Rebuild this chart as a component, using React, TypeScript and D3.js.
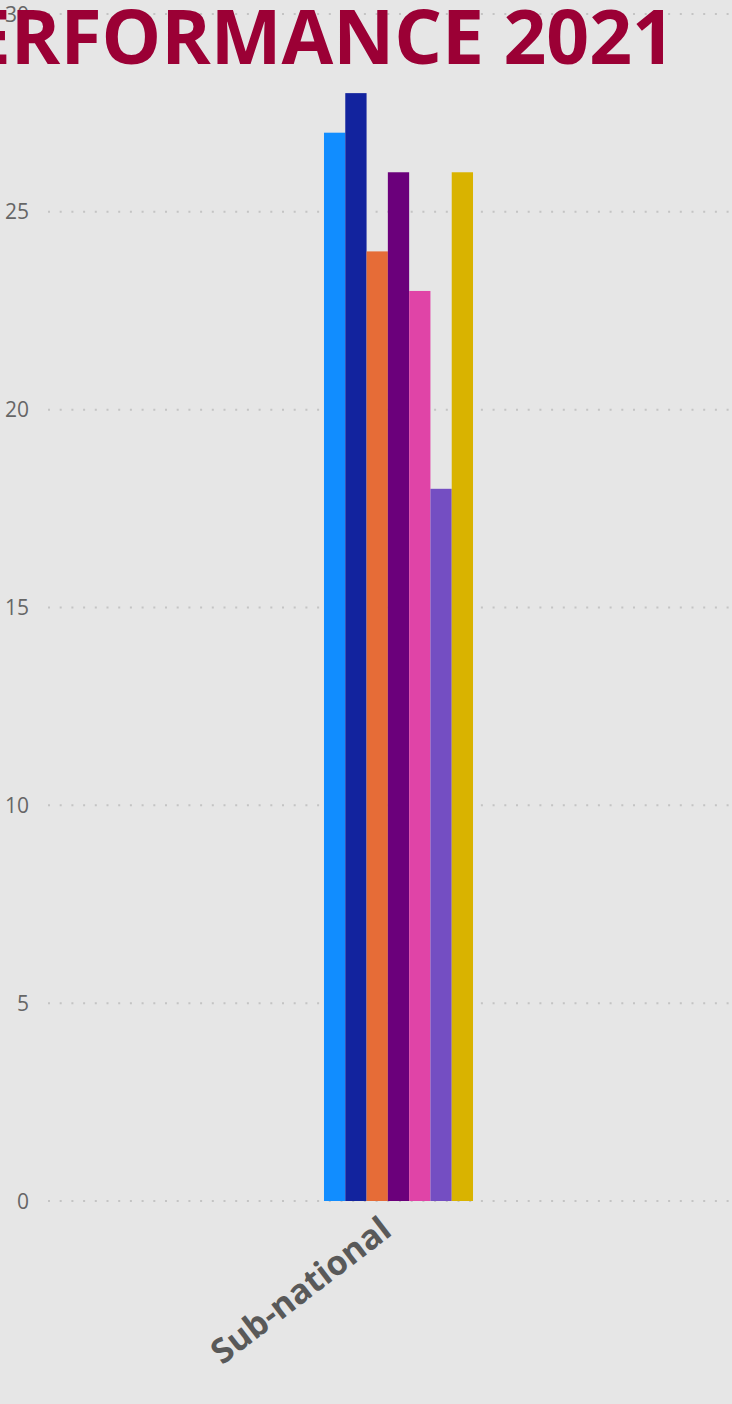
import { useEffect, useRef } from "react";
import * as d3 from "d3";

const categories = ["Sub-national"];
const seriesNames = ["S1", "S2", "S3", "S4", "S5", "S6", "S7"];
const seriesValues = [27, 28, 24, 26, 23, 18, 26];
const seriesColors = ["#118DFF", "#12239E", "#E66C37", "#6B007B", "#E044A7", "#744EC2", "#D9B300"];
const yTicks = [0, 5, 10, 15, 20, 25, 30];
const titleText = "PERFORMANCE 2021";

const W = 732;
const H = 1404;
const FONT = "'Open Sans', 'DejaVu Sans', sans-serif";

export default function App() {
  const svgRef = useRef<SVGSVGElement | null>(null);

  useEffect(() => {
    if (!svgRef.current) return;
    const svg = d3.select(svgRef.current);
    svg.selectAll("*").remove();

    svg.append("rect").attr("width", W).attr("height", H).attr("fill", "#E6E6E6");

    const y = d3.scaleLinear().domain([0, 30]).range([1201, 14]);
    // plot runs past the right edge of the viewport
    const x = d3.scaleBand().domain(categories).range([48, 749]).paddingInner(0).paddingOuter(1.852);
    const xs = d3.scaleBand().domain(seriesNames).range([0, x.bandwidth()]).padding(0);

    // dotted grid
    svg.append("g").selectAll("line").data(yTicks).enter().append("line")
      .attr("x1", 48).attr("x2", W)
      .attr("y1", d => y(d)).attr("y2", d => y(d))
      .attr("stroke", "#C4C4C4").attr("stroke-width", 2)
      .attr("stroke-dasharray", "2,9.7");

    // y tick labels
    svg.append("g").selectAll("text").data(yTicks).enter().append("text")
      .attr("x", 29).attr("y", d => y(d)).attr("dy", "0.36em")
      .attr("text-anchor", "end").attr("fill", "#666666")
      .attr("font-family", FONT).attr("font-size", 21)
      .text(d => String(d));

    // bars
    const cat = categories[0];
    svg.append("g").selectAll("rect").data(seriesValues).enter().append("rect")
      .attr("x", (_, i) => (x(cat) ?? 0) + (xs(seriesNames[i]) ?? 0))
      .attr("y", d => y(d))
      .attr("width", xs.bandwidth())
      .attr("height", d => y(0) - y(d))
      .attr("fill", (_, i) => seriesColors[i]);

    // category label
    const cx = (x(cat) ?? 0) + x.bandwidth() / 2;
    svg.append("text")
      .attr("transform", `translate(${cx - 5},${y(0) + 33}) rotate(-37.5)`)
      .attr("text-anchor", "end").attr("fill", "#595959")
      .attr("font-family", FONT).attr("font-weight", 700).attr("font-size", 34)
      .text(cat);

    // title, clipped on the left
    svg.append("text")
      .attr("x", 675).attr("y", 64)
      .attr("text-anchor", "end").attr("fill", "#9B0035")
      .attr("font-family", FONT).attr("font-weight", 700).attr("font-size", 75)
      .text(titleText);
  }, []);

  return (
    <svg ref={svgRef} width={W} height={H}
      style={{ position: "absolute", left: 0, top: 0, display: "block" }} />
  );
}
